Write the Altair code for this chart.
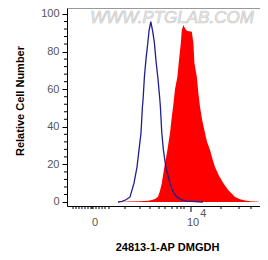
import altair as alt
import pandas as pd

# Flow-cytometry histogram, x in display (logicle) channel units
blue_x = [255, 275, 295, 315, 335, 350, 360, 370, 377, 380, 387, 395, 404, 410, 419,
          428, 437, 445, 454, 463, 467, 474, 482, 494, 515, 530, 549, 570, 599, 640, 680]
blue_y = [0, 0.3, 1.2, 2.7, 10, 18.6, 27.7, 36.7, 50.5, 54, 66.5, 76, 84.6, 91, 95.9,
          91, 84.6, 75, 66.5, 56, 50.5, 36.7, 27.7, 18.6, 10, 5.5, 2.7, 1.3, 0.5, 0.2, 0]

red_x = [265, 305, 365, 405, 425, 440, 455, 465, 474, 487, 502, 515, 524, 532, 540, 552,
         560, 569, 574, 582, 590, 599, 610, 624, 632, 637, 649, 657, 665, 675, 690, 700,
         715, 730, 740, 760, 782, 805, 840, 865, 890, 915, 940, 960]
red_y = [0, 0.2, 0.4, 0.7, 1.0, 1.6, 2.8, 6, 10, 18.8, 27.7, 36.7, 45.4, 52, 60, 66.6,
         75.5, 84.4, 91.5, 94.1, 92.4, 91.1, 90.8, 90.6, 84.4, 74, 66.6, 57.8, 50.7, 44,
         36.7, 32, 27.7, 22, 18.6, 14, 10, 6.5, 2.7, 1.5, 0.8, 0.4, 0.2, 0.1]

y_major = [0, 20, 40, 60, 80, 100]
y_minor = [4, 8, 12, 16, 24, 28, 32, 36, 44, 48, 52, 56, 64, 68, 72, 76, 84, 88, 92, 96]
x_minor = [30, 45, 60, 75, 90, 105, 120, 125, 130, 145, 160, 175, 190, 210,
           290, 365, 415, 460, 490, 525, 550, 570, 585, 770, 860, 920]
x_major = [620]
x_label_text = ["0", "10"]
x_label_pos = [140, 630]
x_sup_text = ["4"]
x_sup_pos = [682]
watermark = ["WWW.PTGLAB.COM"]

W, H = 193, 198
FONT = "Liberation Sans"

xs = alt.Scale(domain=[0, 965], nice=False, zero=False)
ys = alt.Scale(domain=[-2.13, 103.19], nice=False, zero=False)

xa = alt.Axis(title="24813-1-AP DMGDH", ticks=False, labels=False, grid=False,
              domainColor="#000000", domainWidth=1, titleX=100, titleY=41,
              titleBaseline="middle", titleFont=FONT, titleFontSize=11,
              titleFontWeight="bold", titleColor="#000000")
ya = alt.Axis(title="Relative Cell Number", values=y_major, tickSize=5, grid=False,
              tickColor="#000000", domainColor="#000000", labelColor="#555555",
              labelFontSize=11, labelFont=FONT, labelPadding=3,
              titleX=-42, titleY=92.5, titleFont=FONT, titleFontSize=11,
              titleFontWeight="bold", titleColor="#000000")

red_df = pd.DataFrame({"x": red_x, "y": red_y})
blue_df = pd.DataFrame({"x": blue_x, "y": blue_y})

red = alt.Chart(red_df).mark_area(color="#ff0000", clip=True).encode(
    x=alt.X("x:Q", scale=xs, axis=xa),
    y=alt.Y("y:Q", scale=ys, axis=ya),
    y2=alt.value(H),
)
blue = alt.Chart(blue_df).mark_line(color="#1f1f8f", strokeWidth=1.3, clip=True).encode(
    x=alt.X("x:Q", scale=xs, axis=xa),
    y=alt.Y("y:Q", scale=ys, axis=ya),
)

yminor = alt.Chart(pd.DataFrame({"y": y_minor})).mark_rule(color="#000000").encode(
    y=alt.Y("y:Q", scale=ys, axis=ya), x=alt.value(-3), x2=alt.value(0))
xminor = alt.Chart(pd.DataFrame({"x": x_minor})).mark_rule(color="#000000").encode(
    x=alt.X("x:Q", scale=xs, axis=xa), y=alt.value(H), y2=alt.value(H + 3))
xmajor = alt.Chart(pd.DataFrame({"x": x_major})).mark_rule(color="#000000").encode(
    x=alt.X("x:Q", scale=xs, axis=xa), y=alt.value(H), y2=alt.value(H + 6))

xlab = alt.Chart(pd.DataFrame({"x": x_label_pos, "t": x_label_text})).mark_text(
    font=FONT, fontSize=11, color="#555555", baseline="middle").encode(
    x=alt.X("x:Q", scale=xs, axis=xa), y=alt.value(H + 17), text="t:N")
xsup = alt.Chart(pd.DataFrame({"x": x_sup_pos, "t": x_sup_text})).mark_text(
    font=FONT, fontSize=11, color="#555555", baseline="middle").encode(
    x=alt.X("x:Q", scale=xs, axis=xa), y=alt.value(H + 8), text="t:N")

top = alt.Chart(pd.DataFrame({"x": [0]})).mark_rule(color="#555555").encode(
    x=alt.value(0), x2=alt.value(W), y=alt.value(0))

wm = alt.Chart(pd.DataFrame({"t": watermark})).mark_text(
    font=FONT, fontSize=17, fontStyle="italic", color="#eeeeee", stroke="#c4c4c4",
    strokeWidth=0.6, baseline="middle").encode(
    x=alt.value(105), y=alt.value(10), text="t:N")

chart = alt.layer(red, blue, yminor, xminor, xmajor, xlab, xsup, top, wm).properties(
    width=W, height=H,
    autosize=alt.AutoSizeParams(type="none"),
    padding={"left": 59, "top": 0, "right": 0, "bottom": 46},
).configure_view(strokeWidth=0).configure(font=FONT)

chart.save("out.html", embed_options={"renderer": "svg", "actions": False})
